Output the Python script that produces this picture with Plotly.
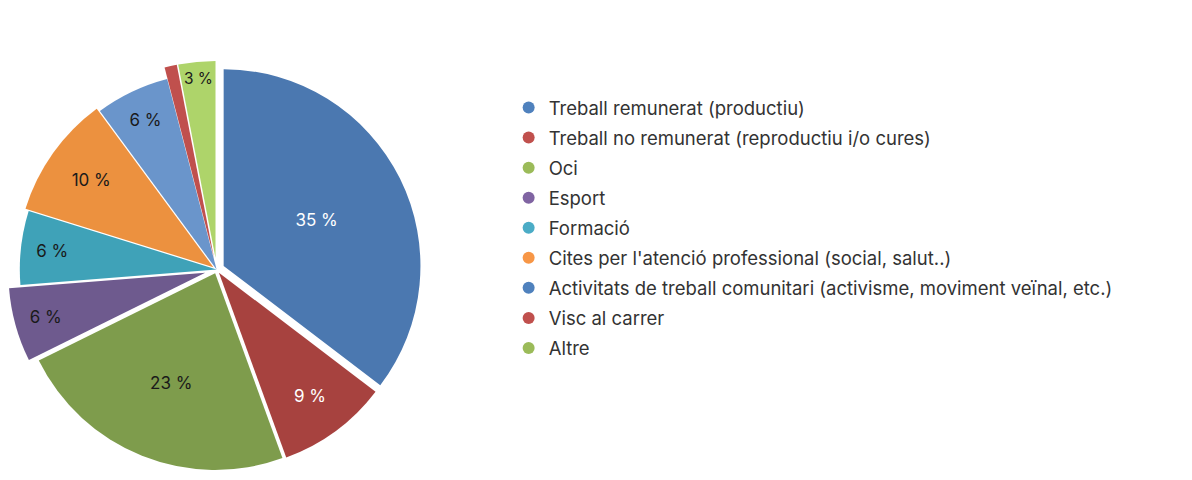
import plotly.graph_objects as go

categories = [
    "Treball remunerat (productiu)",
    "Treball no remunerat (reproductiu i/o cures)",
    "Oci",
    "Esport",
    "Formació",
    "Cites per l'atenció professional (social, salut..)",
    "Activitats de treball comunitari (activisme, moviment veïnal, etc.)",
    "Visc al carrer",
    "Altre",
]
values = [35, 9, 23, 6, 6, 10, 6, 1, 3]
slice_colors = ["#4B78B0", "#A7423F", "#7E9C4C", "#6E5A8E", "#3FA2B8",
                "#EC913F", "#6A95CB", "#C0504D", "#AED46A"]
legend_colors = ["#4F81BD", "#C0504D", "#9BBB59", "#8064A2", "#4BACC6",
                 "#F79646", "#4F81BD", "#C0504D", "#9BBB59"]
pulls = [0.04, 0.02, 0.02, 0.06, 0.0, 0.02, 0.0, 0.06, 0.06]
text_colors = ["white", "white", "#1a1a1a", "#1a1a1a", "#1a1a1a",
               "#1a1a1a", "#1a1a1a", "#1a1a1a", "#1a1a1a"]
templates = ["%{value} %"] * 7 + [""] + ["%{value} %"]

fig = go.Figure()
fig.add_trace(go.Pie(
    labels=categories, values=values, sort=False, direction="clockwise",
    rotation=0, pull=pulls, showlegend=False,
    marker=dict(colors=slice_colors, line=dict(width=0)),
    texttemplate=templates, textposition="inside",
    insidetextorientation="horizontal",
    textfont=dict(size=17, color=text_colors, family="Inter"),
    domain=dict(x=[0, 0.35], y=[0, 1]), hoverinfo="label+value",
))
for i, (c, col) in enumerate(zip(categories, legend_colors)):
    fig.add_trace(go.Scatter(
        x=[None], y=[None], mode="markers", name=c, legendgroup=f"g{i}",
        marker=dict(symbol="circle", size=12, color=col),
    ))

fig.update_layout(
    width=1192, height=480, paper_bgcolor="white", plot_bgcolor="white",
    margin=dict(l=0, r=0, t=43, b=0),
    xaxis=dict(visible=False), yaxis=dict(visible=False),
    font=dict(family="Inter", color="#333333"),
    legend=dict(x=0.42, y=0.913, xanchor="left", yanchor="top",
                font=dict(size=18.5, color="#333333", family="Inter"),
                traceorder="grouped", tracegroupgap=3,
                bgcolor="rgba(0,0,0,0)"),
)
fig.write_html("out.html")
